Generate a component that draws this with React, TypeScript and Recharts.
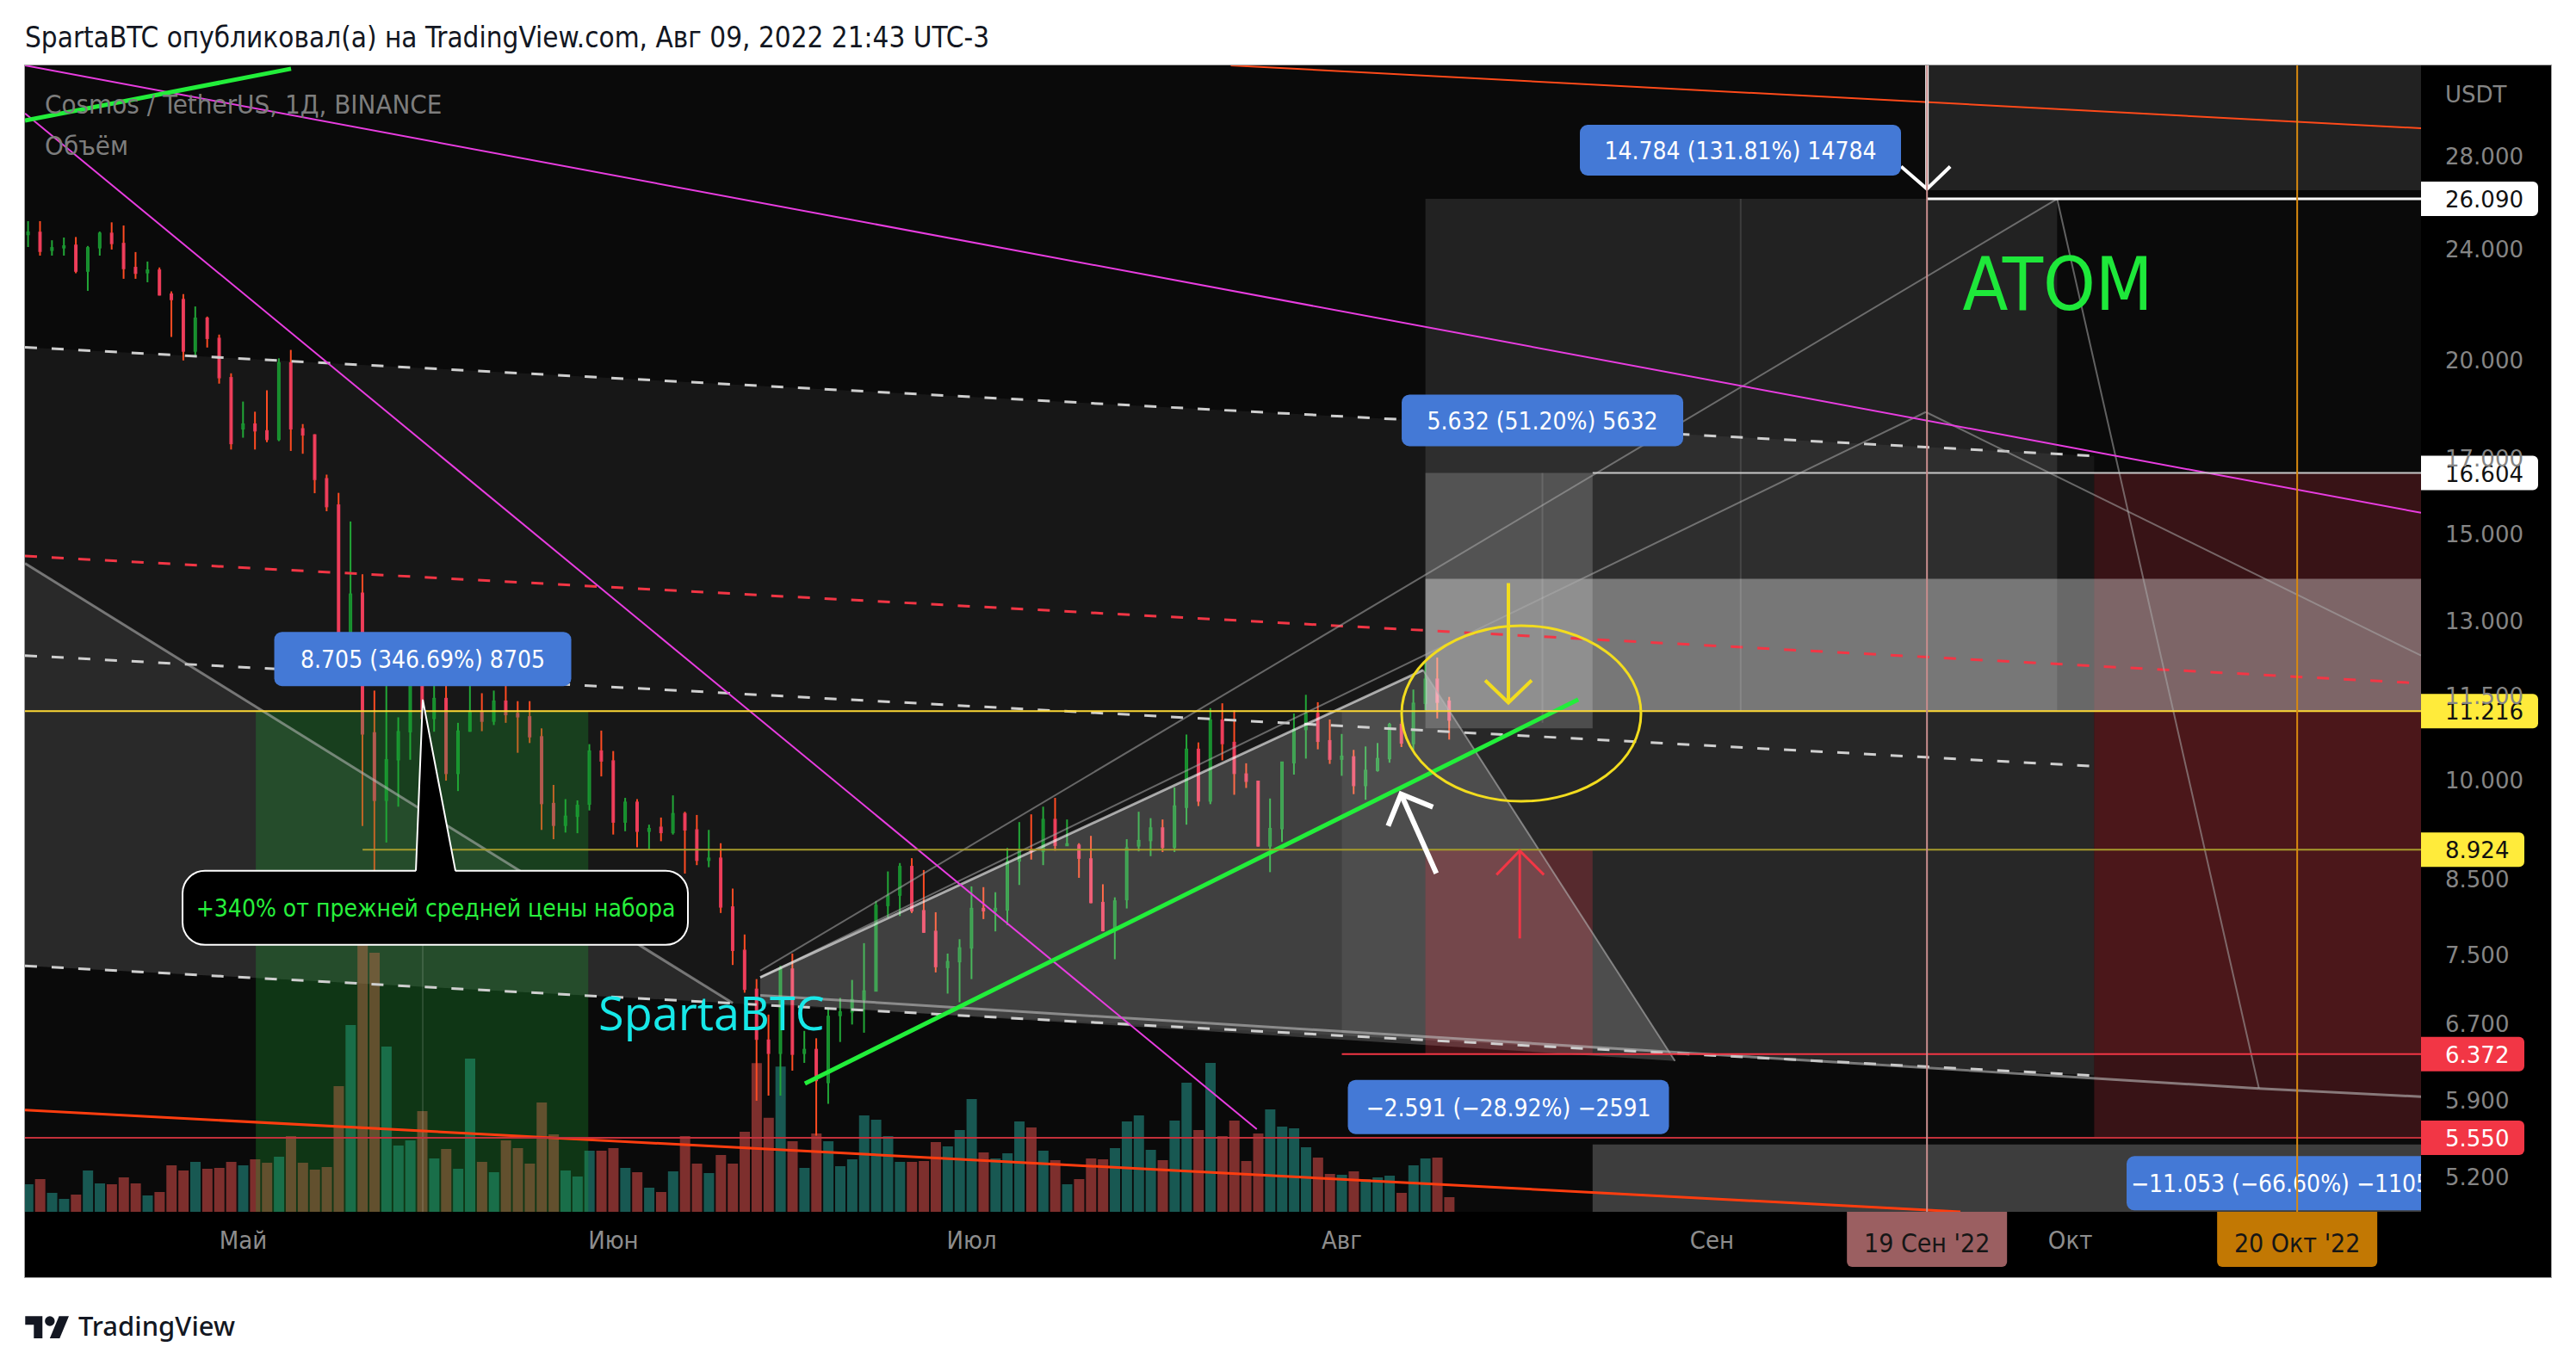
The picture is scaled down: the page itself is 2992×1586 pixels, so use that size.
import React from "react";
import {
  ComposedChart,
  Bar,
  Area,
  Cell,
  XAxis,
  YAxis,
  CartesianGrid,
  ReferenceLine,
  ReferenceArea,
  ReferenceDot,
} from "recharts";

const COND = "'DejaVu Sans Condensed', 'Liberation Sans Narrow', 'DejaVu Sans', sans-serif";
const WIDE = "'DejaVu Sans', Verdana, sans-serif";

const CHART_W = 2934;
const CHART_H = 1408;
const AXIS_W = 151;
const AXIS_H = 76;

// daily candles, day index counted from 1 May 2022 (13 Apr = -18 ... 10 Aug = 101)
const firstDay = -18;

const open = [
  24.6, 24.69, 23.97, 24.07, 24.17, 23.16, 24.07, 24.65, 24.24, 23.3, 23.1, 23.2, 22.3, 22.1, 20.3, 21.43, 20.73, 19.43,
  17.86, 18.0, 17.8, 17.55, 19.91, 17.86, 17.68, 16.45, 15.75, 12.5, 13.62, 10.82, 9.68, 10.35, 10.84, 12.0, 11.08, 11.45,
  10.12, 10.85, 11.2, 11.03, 11.4, 11.17, 11.11, 10.75, 9.63, 9.29, 9.43, 9.62, 10.5,
  10.33, 9.34, 9.65, 9.2, 9.26, 9.18, 9.47, 9.22, 8.77, 8.8, 8.12, 7.56, 7.09, 6.52, 6.38, 7.33, 6.38, 6.42, 6.08, 6.79,
  6.83, 6.97, 7.07, 8.14, 8.28, 8.68, 8.07, 7.8, 7.35, 7.42,
  7.59, 8.1, 8.07, 8.08, 8.76, 8.93, 8.9, 9.38, 8.99, 8.99, 8.79, 8.18, 7.81, 8.22, 8.98, 9.06, 9.25, 8.96, 9.57, 10.53,
  9.67, 11.05, 10.65, 10.11, 9.99, 8.98, 9.24, 10.3, 10.88, 11.17, 10.68,
  10.36, 10.4, 9.92, 10.17, 10.37, 10.97, 10.63, 11.36, 11.82, 11.4,
];
const high = [
  25.15, 25.15, 24.37, 24.48, 24.5, 24.14, 24.72, 25.1, 24.97, 23.9, 23.53, 23.3, 22.4, 22.3, 21.85, 21.49, 20.86, 19.57,
  18.68, 18.37, 19.03, 20.06, 20.34, 18.0, 17.7, 16.56, 16.07, 15.33, 14.05, 11.6, 11.7, 11.1, 12.3, 12.4, 12.0, 11.69,
  11.0, 11.86, 11.55, 11.6, 12.16, 11.4, 11.4, 10.9, 9.93, 9.7, 9.68, 10.62, 10.86,
  10.5, 9.72, 9.7, 9.3, 9.41, 9.76, 9.5, 9.45, 9.22, 9.02, 8.37, 7.76, 7.21, 6.8, 7.37, 7.52, 6.62, 6.54, 6.88, 6.99,
  7.2, 7.65, 8.2, 8.61, 8.73, 8.8, 8.63, 8.05, 7.52, 7.7,
  8.4, 8.39, 8.32, 8.95, 9.34, 9.46, 9.58, 9.72, 9.38, 9.02, 9.13, 8.43, 8.25, 9.08, 9.5, 9.4, 9.38, 9.89, 10.79, 10.65,
  11.27, 11.36, 11.23, 10.29, 10.0, 9.71, 10.31, 11.17, 11.52, 11.38, 11.06,
  10.8, 10.52, 10.58, 10.64, 11.0, 11.02, 11.62, 12.15, 12.25, 11.48,
];
const low = [
  24.1, 23.76, 23.76, 23.76, 23.08, 22.42, 23.76, 24.0, 22.87, 22.87, 22.74, 22.25, 20.78, 19.99, 20.15, 20.42, 19.24, 17.26,
  17.6, 17.26, 17.47, 17.5, 17.22, 17.14, 16.06, 15.59, 12.2, 12.2, 9.28, 8.6, 9.03, 9.58, 10.35, 10.95, 10.84, 10.0,
  9.83, 10.84, 10.85, 10.96, 11.0, 10.47, 10.64, 9.22, 9.08, 9.18, 9.17, 9.52, 10.07,
  9.15, 9.2, 8.96, 8.92, 9.05, 9.15, 8.58, 8.7, 8.67, 8.04, 7.38, 7.05, 5.9, 5.95, 5.95, 6.2, 6.28, 5.57, 5.87, 6.5,
  6.69, 6.6, 7.07, 7.98, 8.0, 8.04, 7.78, 7.29, 7.04, 6.94,
  7.21, 7.96, 7.8, 7.88, 8.42, 8.78, 8.7, 8.91, 8.98, 8.52, 8.17, 7.8, 7.45, 8.1, 8.9, 8.83, 8.89, 8.89, 9.3, 9.59,
  9.62, 10.34, 9.77, 9.88, 8.97, 8.6, 9.04, 10.1, 10.37, 10.53, 10.28,
  10.08, 9.78, 9.69, 10.15, 10.3, 10.57, 10.52, 11.23, 11.08, 10.7,
];
const close = [
  24.7, 23.93, 24.07, 24.14, 23.16, 24.07, 24.65, 24.24, 23.26, 23.08, 23.2, 22.27, 22.1, 20.3, 21.43, 20.73, 19.43, 17.43,
  18.0, 17.8, 17.55, 19.91, 17.86, 17.68, 16.43, 15.71, 12.5, 13.6, 10.8, 9.68, 10.35, 10.84, 12.0, 11.08, 11.45, 10.12,
  10.85, 11.2, 11.03, 11.4, 11.15, 11.11, 10.75, 9.63, 9.29, 9.43, 9.6, 10.5, 10.33,
  9.34, 9.65, 9.2, 9.24, 9.18, 9.47, 9.22, 8.77, 8.8, 8.12, 7.56, 7.09, 6.53, 6.38, 7.34, 6.37, 6.42, 6.1, 6.78, 6.83,
  6.97, 7.07, 8.14, 8.27, 8.68, 8.07, 7.79, 7.36, 7.42, 7.59,
  8.1, 8.07, 8.1, 8.75, 8.92, 8.9, 9.38, 8.99, 9.01, 8.8, 8.18, 7.81, 8.2, 8.95, 9.06, 9.25, 8.96, 9.59, 10.53, 9.67,
  11.05, 10.63, 10.12, 9.99, 8.98, 9.24, 10.31, 10.88, 11.17, 10.67, 10.36,
  10.41, 9.92, 10.17, 10.37, 10.97, 10.64, 11.36, 11.82, 11.38, 11.05,
];
// volume, relative units
const volume = [
  96, 114, 66, 45, 60, 144, 99, 96, 120, 99, 57, 69, 162, 144, 174, 150, 153, 174,
  162, 183, 171, 192, 264, 171, 147, 156, 438, 651, 930, 903, 576, 231, 249, 351, 186, 219,
  150, 534, 174, 138, 249, 222, 168, 381, 270, 144, 123, 213, 213,
  222, 153, 138, 84, 69, 141, 264, 168, 135, 198, 168, 279, 518, 328, 506, 246, 153, 273, 246, 159,
  183, 336, 321, 264, 174, 174, 177, 243, 228, 285,
  393, 207, 186, 204, 315, 294, 213, 180, 96, 114, 186, 183, 222, 315, 336, 216, 180, 318, 450, 285,
  519, 264, 318, 177, 273, 357, 297, 291, 225, 189, 132,
  129, 141, 114, 120, 126, 66, 162, 186, 189, 51,
];

const monthTicks = [0, 31, 61, 92, 123, 153];
const monthNames = ["Май", "Июн", "Июл", "Авг", "Сен", "Окт"];
const priceTicks = [5.2, 5.9, 6.7, 7.5, 8.5, 10, 11.5, 13, 15, 17, 20, 24, 28];

const X_MIN = -18.27;
const X_MAX = 182.37;
const Y_MIN = 4.913;
const Y_MAX = 32.51;
const VOL_MAX = 3996;

const candles = open.map((o, i) => ({
  d: firstDay + i,
  o,
  h: high[i],
  l: low[i],
  c: close[i],
  range: [low[i], high[i]],
  vol: volume[i],
}));

// drawings: [day, price]
const channelFill = [
  { d: X_MIN, v: [7.37, 20.43] },
  { d: 155, v: [6.15, 17.08] },
];
const leftWedgeFill = [
  { d: X_MIN, v: [7.37, 14.31] },
  { d: 41, v: [6.93, 6.93] },
];
const riseWedgeFill = [
  { d: 43.3, v: [6.93, 7.23] },
  { d: 98.8, v: [6.47, 12.0] },
  { d: 119.9, v: [6.3, 6.3] },
];
const zoneFill = [
  { d: 92, v: [6.57, 11.216] },
  { d: 155, v: [6.15, 11.216] },
];

type Seg = { a: [number, number]; b: [number, number]; color: string; w: number; dash?: string };
const segments: Seg[] = [
  { a: [X_MIN, 20.43], b: [155, 17.08], color: "#cfcfcf", w: 3, dash: "14 17" },
  { a: [X_MIN, 14.48], b: [X_MAX, 11.74], color: "#f23645", w: 3, dash: "14 17" },
  { a: [X_MIN, 12.29], b: [155, 10.24], color: "#cfcfcf", w: 3, dash: "14 17" },
  { a: [X_MIN, 7.37], b: [155, 6.15], color: "#cfcfcf", w: 3, dash: "14 17" },
  { a: [X_MIN, 14.31], b: [41, 6.93], color: "rgba(190,190,190,0.55)", w: 3 },
  { a: [43.3, 7.31], b: [151.9, 26.09], color: "rgba(170,170,170,0.55)", w: 2 },
  { a: [151.9, 26.09], b: [168.8, 6.02], color: "rgba(170,170,170,0.55)", w: 2 },
  { a: [43.3, 7.02], b: [168.8, 6.02], color: "rgba(190,190,190,0.6)", w: 3 },
  { a: [168.8, 6.02], b: [X_MAX, 5.94], color: "rgba(190,190,190,0.6)", w: 3 },
  { a: [43.3, 7.23], b: [140.9, 18.36], color: "rgba(170,170,170,0.55)", w: 2 },
  { a: [140.9, 18.36], b: [X_MAX, 12.29], color: "rgba(170,170,170,0.55)", w: 2 },
  { a: [43.3, 7.23], b: [98.8, 12.0], color: "rgba(255,255,255,0.6)", w: 3 },
  { a: [98.8, 12.0], b: [119.9, 6.3], color: "rgba(180,180,180,0.6)", w: 2 },
  { a: [125.4, 11.216], b: [125.4, 26.09], color: "rgba(255,255,255,0.12)", w: 2 },
  { a: [108.8, 11.0], b: [108.8, 16.604], color: "rgba(255,255,255,0.12)", w: 2 },
  { a: [15.04, Y_MIN], b: [15.04, 11.216], color: "rgba(255,255,255,0.12)", w: 2 },
  { a: [X_MIN, 32.51], b: [X_MAX, 15.55], color: "#e83de0", w: 2 },
  { a: [X_MIN, 30.04], b: [84.88, 5.63], color: "#e83de0", w: 2 },
  { a: [82.7, 32.51], b: [X_MAX, 29.31], color: "#ff4a1a", w: 2 },
  { a: [X_MIN, 5.81], b: [143.8, Y_MIN], color: "#ff3d0f", w: 3 },
  { a: [X_MIN, 29.69], b: [4.01, 32.33], color: "#22ee3a", w: 5 },
  { a: [47.04, 6.07], b: [111.8, 11.43], color: "#22ee3a", w: 5 },
  { a: [141, 26.09], b: [X_MAX, 26.09], color: "#ffffff", w: 3 },
  { a: [113, 16.604], b: [X_MAX, 16.604], color: "#c8c8c8", w: 2 },
  { a: [X_MIN, 11.216], b: [X_MAX, 11.216], color: "#fdd835", w: 2 },
  { a: [10, 8.924], b: [X_MAX, 8.924], color: "#a69b2c", w: 2 },
  { a: [92, 6.372], b: [X_MAX, 6.372], color: "#f23645", w: 2 },
  { a: [X_MIN, 5.55], b: [X_MAX, 5.55], color: "#c2303a", w: 2 },
];

const Candle = (props: any) => {
  const { x, y, width, height, payload } = props;
  if (x == null || y == null || !payload) return null;
  const top = Math.min(y, y + height);
  const bot = Math.max(y, y + height);
  const lh = Math.log(payload.h);
  const ll = Math.log(payload.l);
  const span = lh - ll || 1;
  const py = (p: number) => top + ((bot - top) * (lh - Math.log(p))) / span;
  const up = payload.c >= payload.o;
  const yo = py(payload.o);
  const yc = py(payload.c);
  const bodyTop = Math.min(yo, yc);
  const bodyH = Math.max(2, Math.abs(yo - yc));
  const mid = x + width / 2;
  return (
    <g>
      <line x1={mid} x2={mid} y1={top} y2={bot} stroke={up ? "#22a737" : "#ff4b22"} strokeWidth={2} />
      <rect
        x={x}
        y={bodyTop}
        width={width}
        height={bodyH}
        fill={up ? "#14882a" : "#f3445e"}
        stroke={up ? "#1b9632" : "#e93a58"}
        strokeWidth={1.5}
      />
    </g>
  );
};

const priceBadge = (text: string, bg: string, fg: string, w: number) => (props: any) => {
  const vb = props.viewBox || {};
  const x0 = vb.x + vb.width;
  const y0 = vb.y;
  return (
    <g>
      <path d={`M${x0},${y0 - 20} h${w - 6} a6,6 0 0 1 6,6 v28 a6,6 0 0 1 -6,6 h${-(w - 6)} z`} fill={bg} />
      <text x={x0 + 28} y={y0 + 1} dominantBaseline="central" fill={fg} fontSize={26} fontFamily={WIDE}>
        {text}
      </text>
    </g>
  );
};

const timeBadge = (text: string, bg: string) => (props: any) => {
  const vb = props.viewBox || {};
  const cx = vb.x;
  const yb = vb.y + vb.height;
  return (
    <g>
      <path d={`M${cx - 93},${yb} h186 v58 a6,6 0 0 1 -6,6 h-174 a6,6 0 0 1 -6,-6 z`} fill={bg} />
      <text x={cx} y={yb + 36} textAnchor="middle" dominantBaseline="central" fill="#161616" fontSize={30} fontFamily={COND}>
        {text}
      </text>
    </g>
  );
};

const blueTag = (text: string, w: number, h: number, clipId?: string) => (p: any) => (
  <g clipPath={clipId ? `url(#${clipId})` : undefined}>
    {clipId && (
      <defs>
        <clipPath id={clipId}>
          <rect x={0} y={0} width={CHART_W - AXIS_W} height={CHART_H - AXIS_H} />
        </clipPath>
      </defs>
    )}
    <rect x={p.cx - w / 2} y={p.cy - h / 2} width={w} height={h} rx={9} fill="#4479d6" />
    <text x={p.cx} y={p.cy + 1} textAnchor="middle" dominantBaseline="central" fill="#ffffff" fontSize={28} fontFamily={COND}>
      {text}
    </text>
  </g>
);

const arrow = (shaft: [number, number], left: [number, number], right: [number, number], color: string, w: number) => (p: any) => (
  <g fill="none" stroke={color} strokeWidth={w} strokeLinecap="butt" strokeLinejoin="miter">
    <path d={`M${p.cx + shaft[0]},${p.cy + shaft[1]} L${p.cx},${p.cy}`} />
    <path d={`M${p.cx + left[0]},${p.cy + left[1]} L${p.cx},${p.cy} L${p.cx + right[0]},${p.cy + right[1]}`} />
  </g>
);

const Callout = (p: any) => (
  <g>
    <rect x={p.cx - 279} y={p.cy + 199} width={587} height={86} rx={26} fill="#000" stroke="#ffffff" strokeWidth={2} />
    <path d={`M${p.cx - 8},${p.cy + 201} L${p.cx},${p.cy} L${p.cx + 38},${p.cy + 201} Z`} fill="#000" />
    <path d={`M${p.cx - 8},${p.cy + 199} L${p.cx},${p.cy} L${p.cx + 38},${p.cy + 199}`} fill="none" stroke="#ffffff" strokeWidth={2} />
    <text x={p.cx + 15} y={p.cy + 243} textAnchor="middle" dominantBaseline="central" fill="#27f03c" fontSize={28} fontFamily={COND}>
      +340% от прежней средней цены набора
    </text>
  </g>
);

const TvLogo = () => (
  <svg width="52" height="30" viewBox="0 0 36 21">
    <path d="M14 21H7V10H0V3h14v18z" fill="#131722" />
    <circle cx="20" cy="7" r="4" fill="#131722" />
    <path d="M28 21h-8l7.5-18h8L28 21z" fill="#131722" />
  </svg>
);

export default function App() {
  return (
    <div style={{ position: "fixed", left: 0, top: 0, width: 2992, height: 1586, background: "#ffffff", overflow: "hidden" }}>
      <div
        style={{
          position: "absolute",
          left: 29,
          top: 27,
          fontFamily: COND,
          fontSize: 33,
          lineHeight: "33px",
          color: "#131722",
          whiteSpace: "nowrap",
        }}
      >
        SpartaBTC опубликовал(а) на TradingView.com, Авг 09, 2022 21:43 UTC-3
      </div>
      <div style={{ position: "absolute", left: 28, top: 75, width: CHART_W, height: CHART_H, border: "1px solid #a0a0a0", background: "#000" }} />
      <div style={{ position: "absolute", left: 29, top: 76, width: CHART_W, height: CHART_H }}>
        <ComposedChart width={CHART_W} height={CHART_H} data={candles} margin={{ top: 0, right: 0, bottom: 0, left: 0 }}>
          <CartesianGrid fill="#0a0a0a" stroke="none" horizontal={false} vertical={false} />
          <XAxis
            dataKey="d"
            type="number"
            domain={[X_MIN, X_MAX]}
            allowDataOverflow
            ticks={monthTicks}
            interval={0}
            tickFormatter={(v: number) => monthNames[monthTicks.indexOf(v)] ?? ""}
            axisLine={false}
            tickLine={false}
            tickSize={0}
            tickMargin={22}
            height={AXIS_H}
            tick={{ fill: "#8d8d8d", fontSize: 29, fontFamily: COND }}
          />
          <XAxis xAxisId="v" dataKey="d" type="number" domain={[X_MIN, X_MAX]} allowDataOverflow hide />
          <YAxis
            orientation="right"
            scale="log"
            domain={[Y_MIN, Y_MAX]}
            allowDataOverflow
            ticks={priceTicks}
            interval={0}
            tickFormatter={(v: number) => v.toFixed(3)}
            width={AXIS_W}
            axisLine={false}
            tickLine={false}
            tickSize={0}
            tickMargin={28}
            tick={{ fill: "#858585", fontSize: 26, fontFamily: WIDE }}
          />
          <YAxis yAxisId="v" domain={[0, VOL_MAX]} allowDataOverflow hide />

          <Area data={channelFill} dataKey="v" type="linear" stroke="none" fill="#ffffff" fillOpacity={0.055} dot={false} activeDot={false} isAnimationActive={false} zIndex={10} />
          <Area data={leftWedgeFill} dataKey="v" type="linear" stroke="none" fill="#ffffff" fillOpacity={0.08} dot={false} activeDot={false} isAnimationActive={false} zIndex={11} />

          <ReferenceArea x1={99} x2={151.9} y1={11.216} y2={26.09} fill="#ffffff" fillOpacity={0.1} stroke="none" ifOverflow="hidden" zIndex={12} />
          <ReferenceArea x1={141} x2={X_MAX} y1={26.47} y2={Y_MAX} fill="#ffffff" fillOpacity={0.1} stroke="none" ifOverflow="hidden" zIndex={12} />
          <ReferenceArea x1={155} x2={X_MAX} y1={5.55} y2={16.604} fill="#f23645" fillOpacity={0.2} stroke="none" ifOverflow="hidden" zIndex={12} />
          <ReferenceArea x1={155} x2={X_MAX} y1={6.372} y2={11.216} fill="#f23645" fillOpacity={0.1} stroke="none" ifOverflow="hidden" zIndex={12} />
          <ReferenceArea x1={113} x2={X_MAX} y1={Y_MIN} y2={5.49} fill="#ffffff" fillOpacity={0.21} stroke="none" ifOverflow="hidden" zIndex={12} />

          <Bar xAxisId="v" yAxisId="v" dataKey="vol" barSize={12} isAnimationActive={false} zIndex={20}>
            {candles.map((k, i) => (
              <Cell key={i} fill={k.c >= k.o ? "#26a69a" : "#ef5350"} fillOpacity={0.5} />
            ))}
          </Bar>
          <Bar dataKey="range" barSize={11} isAnimationActive={false} shape={(p: any) => <Candle {...p} />} zIndex={21} />

          <Area data={riseWedgeFill} dataKey="v" type="linear" stroke="none" fill="#ffffff" fillOpacity={0.18} dot={false} activeDot={false} isAnimationActive={false} zIndex={30} />
          <Area data={zoneFill} dataKey="v" type="linear" stroke="none" fill="#ffffff" fillOpacity={0.07} dot={false} activeDot={false} isAnimationActive={false} zIndex={30} />
          <ReferenceArea x1={1.06} x2={28.9} y1={Y_MIN} y2={11.216} fill="#1eaa32" fillOpacity={0.28} stroke="none" ifOverflow="hidden" zIndex={31} />
          <ReferenceArea x1={99} x2={113} y1={10.9} y2={16.604} fill="#ffffff" fillOpacity={0.18} stroke="none" ifOverflow="hidden" zIndex={31} />
          <ReferenceArea x1={99} x2={X_MAX} y1={11.216} y2={13.95} fill="#ffffff" fillOpacity={0.35} stroke="none" ifOverflow="hidden" zIndex={32} />
          <ReferenceArea x1={99} x2={113} y1={6.372} y2={8.924} fill="#f23645" fillOpacity={0.24} stroke="none" ifOverflow="hidden" zIndex={32} />

          <ReferenceLine x={141} stroke="#c98e8e" strokeWidth={2} label={timeBadge("19 Сен '22", "#9b5f61")} zIndex={600} />
          <ReferenceLine x={172} stroke="#d98a10" strokeWidth={2} label={timeBadge("20 Окт '22", "#c27803")} zIndex={600} />

          {segments.map((s, i) => (
            <ReferenceLine
              key={`s${i}`}
              segment={[{ x: s.a[0], y: s.a[1] }, { x: s.b[0], y: s.b[1] }]}
              stroke={s.color}
              strokeWidth={s.w}
              strokeDasharray={s.dash}
              ifOverflow="hidden"
              zIndex={40}
            />
          ))}

          <ReferenceDot x={107.03} y={11.17} r={1} ifOverflow="hidden" zIndex={45}
            shape={(p: any) => <ellipse cx={p.cx} cy={p.cy} rx={139} ry={102} fill="none" stroke="#f2dc1e" strokeWidth={3} />} />
          <ReferenceDot x={105.95} y={11.37} r={1} ifOverflow="hidden" zIndex={45} shape={arrow([0, -139], [-27, -26], [27, -26], "#f2dc1e", 4)} />
          <ReferenceDot x={96.96} y={9.78} r={1} ifOverflow="hidden" zIndex={45} shape={arrow([41, 92], [-15, 37], [37, 15], "#ffffff", 6)} />
          <ReferenceDot x={106.9} y={8.91} r={1} ifOverflow="hidden" zIndex={45} shape={arrow([0, 102], [-27, 28], [28, 28], "#f23645", 3)} />
          <ReferenceDot x={141} y={26.52} r={1} ifOverflow="hidden" zIndex={45} shape={arrow([0, -150], [-30, -26], [27, -26], "#ffffff", 4)} />

          <ReferenceDot x={143.98} y={21.73} r={1} ifOverflow="hidden" zIndex={50}
            shape={(p: any) => (
              <text x={p.cx} y={p.cy} fill="#1ee83a" fontSize={86} fontFamily={COND}>ATOM</text>
            )} />
          <ReferenceDot x={29.75} y={6.63} r={1} ifOverflow="hidden" zIndex={50}
            shape={(p: any) => (
              <text x={p.cx} y={p.cy} fill="#17e8e8" fontSize={54} fontFamily="'Open Sans', 'Noto Sans', sans-serif">SpartaBTC</text>
            )} />
          <ReferenceDot x={15.04} y={11.43} r={1} ifOverflow="hidden" zIndex={50} shape={Callout} />

          <ReferenceDot x={125.38} y={28.27} r={1} ifOverflow="hidden" zIndex={55} shape={blueTag("14.784 (131.81%) 14784", 373, 59)} />
          <ReferenceDot x={108.8} y={18.11} r={1} ifOverflow="hidden" zIndex={55} shape={blueTag("5.632 (51.20%) 5632", 327, 60)} />
          <ReferenceDot x={15.04} y={12.22} r={1} ifOverflow="hidden" zIndex={55} shape={blueTag("8.705 (346.69%) 8705", 345, 63)} />
          <ReferenceDot x={105.95} y={5.84} r={1} ifOverflow="hidden" zIndex={55} shape={blueTag("\u22122.591 (\u221228.92%) \u22122591", 373, 63)} />
          <ReferenceDot x={171.16} y={5.15} r={1} ifOverflow="hidden" zIndex={55} shape={blueTag("\u221211.053 (\u221266.60%) \u221211053", 373, 63, "tagClipE")} />

          <ReferenceLine y={26.09} stroke="none" label={priceBadge("26.090", "#ffffff", "#111111", 136)} zIndex={600} />
          <ReferenceLine y={16.604} stroke="none" label={priceBadge("16.604", "#ffffff", "#111111", 136)} zIndex={600} />
          <ReferenceLine y={11.216} stroke="none" label={priceBadge("11.216", "#ffeb3b", "#111111", 136)} zIndex={600} />
          <ReferenceLine y={8.924} stroke="none" label={priceBadge("8.924", "#ffeb3b", "#111111", 120)} zIndex={600} />
          <ReferenceLine y={6.372} stroke="none" label={priceBadge("6.372", "#f23645", "#ffffff", 120)} zIndex={600} />
          <ReferenceLine y={5.55} stroke="none" label={priceBadge("5.550", "#f23645", "#ffffff", 120)} zIndex={600} />
        </ComposedChart>
      </div>
      <div style={{ position: "absolute", left: 52, top: 104, fontFamily: COND, fontSize: 31, color: "#7d7d7d", whiteSpace: "nowrap", lineHeight: "34px" }}>
        Cosmos / TetherUS, 1Д, BINANCE
      </div>
      <div style={{ position: "absolute", left: 52, top: 152, fontFamily: COND, fontSize: 31, color: "#7d7d7d", lineHeight: "34px" }}>
        Объём
      </div>
      <div style={{ position: "absolute", left: 2840, top: 95, fontFamily: WIDE, fontSize: 26, color: "#858585", lineHeight: "30px" }}>
        USDT
      </div>
      <div style={{ position: "absolute", left: 29, top: 1519, display: "flex", alignItems: "center", gap: 10 }}>
        <TvLogo />
        <span style={{ fontFamily: "'Noto Sans', 'DejaVu Sans', sans-serif", fontSize: 31, color: "#131722", fontWeight: 500 }}>TradingView</span>
      </div>
    </div>
  );
}
